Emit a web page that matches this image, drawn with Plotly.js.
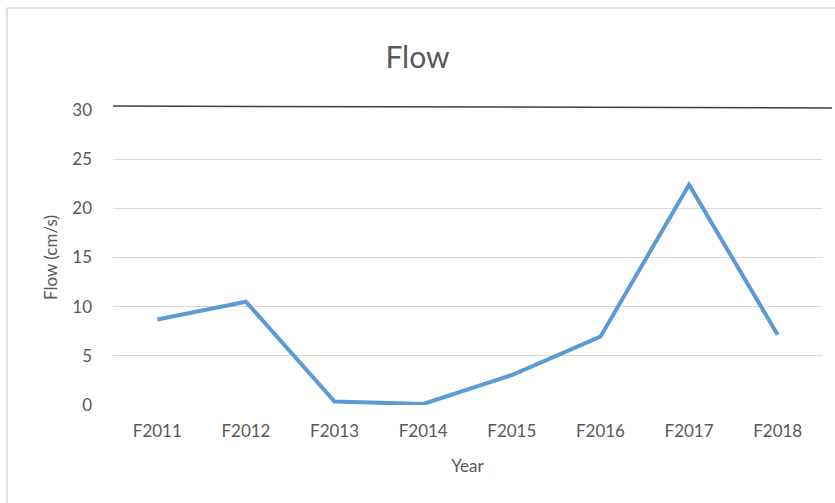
<!DOCTYPE html>
<html>
<head>
<meta charset="utf-8">
<script src="https://cdn.plot.ly/plotly-3.0.1.min.js"></script>
<style>html,body{margin:0;padding:0;background:#fff;}#chart{width:835px;height:503px;}</style>
</head>
<body>
<div id="chart"></div>
<script>
const years = ["F2011","F2012","F2013","F2014","F2015","F2016","F2017","F2018"];
const flow = [8.7, 10.5, 0.35, 0.1, 3.05, 6.95, 22.4, 7.15];
const yTicks = [0, 5, 10, 15, 20, 25, 30];

const L = 113, R = 822, T = 110, B = 405, W = 835, H = 503;
const px = v => (v - L) / (R - L);
const py = v => (B - v) / (B - T);

const data = [{
  type: "scatter",
  mode: "lines",
  x: years,
  y: flow,
  line: {color: "#5B9BD5", width: 4, shape: "linear"},
  hoverinfo: "x+y"
}];

const fontFam = "Lato, 'Open Sans', 'Liberation Sans', sans-serif";
const layout = {
  width: W, height: H,
  margin: {l: L, r: W - R, t: T, b: H - B, pad: 0},
  paper_bgcolor: "#fff",
  plot_bgcolor: "#fff",
  showlegend: false,
  font: {family: fontFam, color: "#595959", size: 16},
  title: {text: "Flow", font: {size: 30, color: "#595959", family: fontFam}, x: 0.5, xref: "container", xanchor: "center", y: 1 - 57 / H, yanchor: "middle"},
  xaxis: {
    type: "category",
    range: [-0.5, years.length - 0.5],
    showgrid: false,
    zeroline: false,
    showline: false,
    ticks: "",
    ticklabelstandoff: 14,
    tickfont: {size: 17, color: "#595959"},
    title: {text: "Year", font: {size: 17, color: "#595959"}, standoff: 20},
    fixedrange: true
  },
  yaxis: {
    range: [0, 30],
    tickvals: yTicks,
    ticktext: yTicks.map(String),
    showgrid: true,
    gridcolor: "#d9d9d9",
    gridwidth: 1,
    zeroline: false,
    showline: false,
    ticks: "",
    ticklabelstandoff: 20,
    tickfont: {size: 17, color: "#595959"},
    title: {text: "Flow (cm/s)", font: {size: 17, color: "#595959"}, standoff: 10},
    fixedrange: true
  },
  shapes: [
    {type: "line", xref: "paper", yref: "paper", x0: 0, x1: px(832), y0: py(106), y1: py(108),
     line: {color: "#404040", width: 1.5}},
    {type: "line", xref: "paper", yref: "paper", x0: px(7), x1: px(7), y0: py(8), y1: py(503),
     line: {color: "#d9d9d9", width: 1.5}},
    {type: "line", xref: "paper", yref: "paper", x0: px(7), x1: px(835), y0: py(8), y1: py(8),
     line: {color: "#d9d9d9", width: 1.5}}
  ]
};

Plotly.newPlot("chart", data, layout, {displayModeBar: false, staticPlot: true});
</script>
</body>
</html>
